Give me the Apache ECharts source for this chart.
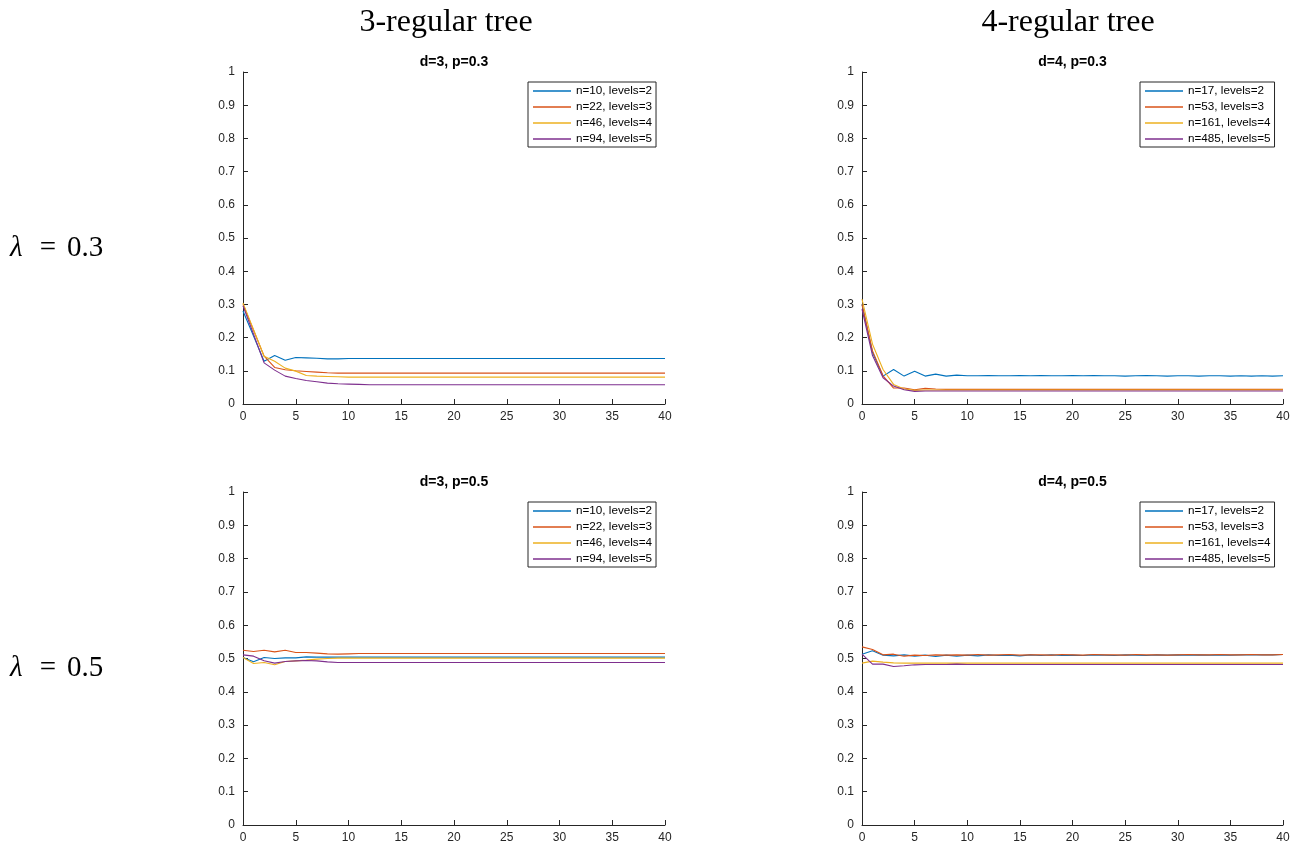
<!DOCTYPE html>
<html>
<head>
<meta charset="utf-8">
<title>Regular trees</title>
<script src="https://cdn.jsdelivr.net/npm/echarts@6/dist/echarts.min.js"></script>
<style>
  html, body { margin: 0; padding: 0; background: #fff; }
  #chart { width: 1298px; height: 849px; }
</style>
</head>
<body>
<div id="chart"></div>
<script>
// Steps 0..40 on the horizontal axis
const steps = [0,1,2,3,4,5,6,7,8,9,10,11,12,13,14,15,16,17,18,19,20,
  21,22,23,24,25,26,27,28,29,30,31,32,33,34,35,36,37,38,39,40];

const yTicks = [0,0.1,0.2,0.3,0.4,0.5,0.6,0.7,0.8,0.9,1];
const xTicks = [0,5,10,15,20,25,30,35,40];

const colHeaders = ['3-regular tree', '4-regular tree'];
const rowHeaders = ['0.3', '0.5'];
const panelTitles = ['d=3, p=0.3', 'd=4, p=0.3', 'd=3, p=0.5', 'd=4, p=0.5'];

const names3 = ['n=10, levels=2', 'n=22, levels=3', 'n=46, levels=4', 'n=94, levels=5'];
const names4 = ['n=17, levels=2', 'n=53, levels=3', 'n=161, levels=4', 'n=485, levels=5'];

// d=3, p=0.3
const d3p3_l2 = [0.280,0.205,0.129,0.146,0.132,0.140,0.139,0.138,0.136,0.136,
  0.137,0.137,0.137,0.137,0.137,0.137,0.137,0.137,0.137,0.137,
  0.137,0.137,0.137,0.137,0.137,0.137,0.137,0.137,0.137,0.137,
  0.137,0.137,0.137,0.137,0.137,0.137,0.137,0.137,0.137,0.137,0.137];
const d3p3_l3 = [0.300,0.222,0.144,0.110,0.103,0.100,0.098,0.096,0.094,0.093,
  0.093,0.093,0.093,0.093,0.093,0.093,0.093,0.093,0.093,0.093,
  0.093,0.093,0.093,0.093,0.093,0.093,0.093,0.093,0.093,0.093,
  0.093,0.093,0.093,0.093,0.093,0.093,0.093,0.093,0.093,0.093,0.093];
const d3p3_l4 = [0.304,0.224,0.144,0.129,0.108,0.099,0.086,0.084,0.083,0.082,
  0.081,0.081,0.081,0.081,0.081,0.081,0.081,0.081,0.081,0.081,
  0.081,0.081,0.081,0.081,0.081,0.081,0.081,0.081,0.081,0.081,
  0.081,0.081,0.081,0.081,0.081,0.081,0.081,0.081,0.081,0.081,0.081];
const d3p3_l5 = [0.296,0.210,0.124,0.102,0.084,0.077,0.071,0.067,0.063,0.061,
  0.060,0.059,0.058,0.058,0.058,0.058,0.058,0.058,0.058,0.058,
  0.058,0.058,0.058,0.058,0.058,0.058,0.058,0.058,0.058,0.058,
  0.058,0.058,0.058,0.058,0.058,0.058,0.058,0.058,0.058,0.058,0.058];

// d=4, p=0.3
const d4p3_l2 = [0.300,0.155,0.084,0.104,0.084,0.099,0.084,0.090,0.084,0.087,
  0.085,0.085,0.086,0.085,0.085,0.086,0.085,0.086,0.085,0.085,
  0.086,0.085,0.086,0.085,0.085,0.084,0.085,0.086,0.085,0.084,
  0.085,0.085,0.084,0.085,0.085,0.084,0.085,0.084,0.085,0.084,0.085];
const d4p3_l3 = [0.300,0.160,0.085,0.048,0.048,0.043,0.047,0.045,0.044,0.044,
  0.044,0.044,0.044,0.044,0.044,0.044,0.044,0.044,0.044,0.044,
  0.044,0.044,0.044,0.044,0.044,0.044,0.044,0.044,0.044,0.044,
  0.044,0.044,0.044,0.044,0.044,0.044,0.044,0.044,0.044,0.044,0.044];
const d4p3_l4 = [0.316,0.180,0.104,0.059,0.045,0.041,0.042,0.042,0.042,0.042,
  0.042,0.042,0.042,0.042,0.042,0.042,0.042,0.042,0.042,0.042,
  0.042,0.042,0.042,0.042,0.042,0.042,0.042,0.042,0.042,0.042,
  0.042,0.042,0.042,0.042,0.042,0.042,0.042,0.042,0.042,0.042,0.042];
const d4p3_l5 = [0.286,0.146,0.079,0.054,0.043,0.038,0.039,0.039,0.039,0.039,
  0.039,0.039,0.039,0.039,0.039,0.039,0.039,0.039,0.039,0.039,
  0.039,0.039,0.039,0.039,0.039,0.039,0.039,0.039,0.039,0.039,
  0.039,0.039,0.039,0.039,0.039,0.039,0.039,0.039,0.039,0.039,0.039];

// d=3, p=0.5
const d3p5_l2 = [0.503,0.490,0.503,0.500,0.502,0.502,0.505,0.504,0.504,0.504,
  0.504,0.504,0.504,0.504,0.504,0.504,0.504,0.504,0.504,0.504,
  0.504,0.504,0.504,0.504,0.504,0.504,0.504,0.504,0.504,0.504,
  0.504,0.504,0.504,0.504,0.504,0.504,0.504,0.504,0.504,0.504,0.504];
const d3p5_l3 = [0.525,0.521,0.525,0.520,0.525,0.518,0.518,0.516,0.514,0.513,
  0.514,0.515,0.515,0.515,0.515,0.515,0.515,0.515,0.515,0.515,
  0.515,0.515,0.515,0.515,0.515,0.515,0.515,0.515,0.515,0.515,
  0.515,0.515,0.515,0.515,0.515,0.515,0.515,0.515,0.515,0.515,0.515];
const d3p5_l4 = [0.503,0.485,0.488,0.481,0.491,0.493,0.495,0.498,0.500,0.501,
  0.501,0.501,0.501,0.501,0.501,0.501,0.501,0.501,0.501,0.501,
  0.501,0.501,0.501,0.501,0.501,0.501,0.501,0.501,0.501,0.501,
  0.501,0.501,0.501,0.501,0.501,0.501,0.501,0.501,0.501,0.501,0.501];
const d3p5_l5 = [0.511,0.507,0.493,0.486,0.491,0.493,0.494,0.493,0.490,0.488,
  0.488,0.488,0.488,0.488,0.488,0.488,0.488,0.488,0.488,0.488,
  0.488,0.488,0.488,0.488,0.488,0.488,0.488,0.488,0.488,0.488,
  0.488,0.488,0.488,0.488,0.488,0.488,0.488,0.488,0.488,0.488,0.488];

// d=4, p=0.5
const d4p5_l2 = [0.513,0.523,0.510,0.508,0.511,0.507,0.510,0.506,0.510,0.507,
  0.510,0.508,0.511,0.509,0.510,0.508,0.511,0.509,0.511,0.509,
  0.510,0.509,0.511,0.510,0.509,0.511,0.510,0.509,0.511,0.510,
  0.511,0.510,0.511,0.510,0.511,0.510,0.511,0.511,0.511,0.511,0.512];
const d4p5_l3 = [0.535,0.527,0.511,0.513,0.507,0.510,0.509,0.511,0.510,0.511,
  0.510,0.512,0.510,0.511,0.512,0.510,0.511,0.511,0.510,0.512,
  0.511,0.510,0.512,0.511,0.511,0.510,0.512,0.511,0.511,0.510,
  0.511,0.512,0.511,0.511,0.512,0.511,0.511,0.512,0.511,0.511,0.512];
const d4p5_l4 = [0.486,0.492,0.489,0.487,0.486,0.486,0.486,0.486,0.486,0.486,
  0.486,0.486,0.486,0.486,0.486,0.486,0.486,0.486,0.486,0.486,
  0.486,0.486,0.486,0.486,0.486,0.486,0.486,0.486,0.486,0.486,
  0.486,0.486,0.486,0.486,0.486,0.486,0.486,0.486,0.486,0.486,0.486];
const d4p5_l5 = [0.513,0.483,0.483,0.476,0.478,0.481,0.482,0.482,0.482,0.483,
  0.482,0.482,0.482,0.482,0.482,0.482,0.482,0.482,0.482,0.482,
  0.482,0.482,0.482,0.482,0.482,0.482,0.482,0.482,0.482,0.482,
  0.482,0.482,0.482,0.482,0.482,0.482,0.482,0.482,0.482,0.482,0.482];

const palette = ['#0072BD', '#D95319', '#EDB120', '#7E2F8E'];
const axisColor = '#262626';
const sans = '"Liberation Sans", Arial, Helvetica, sans-serif';
const serif = '"Liberation Serif", "DejaVu Serif", serif';

const panels = [
  { grid: { left: 243, top: 72, width: 422, height: 332 }, names: names3,
    data: [d3p3_l2, d3p3_l3, d3p3_l4, d3p3_l5], legendPos: { left: 528, top: 82 } },
  { grid: { left: 862, top: 72, width: 421, height: 332 }, names: names4,
    data: [d4p3_l2, d4p3_l3, d4p3_l4, d4p3_l5], legendPos: { left: 1140, top: 82 } },
  { grid: { left: 243, top: 492, width: 422, height: 333 }, names: names3,
    data: [d3p5_l2, d3p5_l3, d3p5_l4, d3p5_l5], legendPos: { left: 528, top: 502 } },
  { grid: { left: 862, top: 492, width: 421, height: 333 }, names: names4,
    data: [d4p5_l2, d4p5_l3, d4p5_l4, d4p5_l5], legendPos: { left: 1140, top: 502 } }
];

const grids = [], xAxes = [], yAxes = [], series = [], legends = [], graphics = [];

panels.forEach((p, i) => {
  grids.push(Object.assign({ containLabel: false }, p.grid));
  xAxes.push({
    type: 'value', gridIndex: i,
    min: xTicks[0], max: xTicks[xTicks.length - 1], interval: xTicks[1] - xTicks[0],
    axisLine: { show: true, lineStyle: { color: axisColor, width: 1 } },
    axisTick: { show: true, inside: true, length: 5, lineStyle: { color: axisColor } },
    axisLabel: { color: axisColor, fontFamily: sans, fontSize: 12, margin: 7 },
    splitLine: { show: false }
  });
  yAxes.push({
    type: 'value', gridIndex: i,
    min: yTicks[0], max: yTicks[yTicks.length - 1], interval: yTicks[1] - yTicks[0],
    axisLine: { show: true, lineStyle: { color: axisColor, width: 1 } },
    axisTick: { show: true, inside: true, length: 5, lineStyle: { color: axisColor } },
    axisLabel: { color: axisColor, fontFamily: sans, fontSize: 12, margin: 8,
      formatter: v => String(Math.round(v * 10) / 10) },
    splitLine: { show: false }
  });
  p.data.forEach((vals, k) => {
    series.push({
      type: 'line', name: p.names[k], xAxisIndex: i, yAxisIndex: i,
      data: vals.map((v, j) => [steps[j], v]),
      symbol: 'none', smooth: false, z: 2 + k,
      lineStyle: { color: palette[k], width: 1.1 },
      itemStyle: { color: palette[k] }
    });
  });
  legends.push({
    left: p.legendPos.left, top: p.legendPos.top,
    orient: 'vertical', data: p.names, selectedMode: false,
    icon: 'rect', itemWidth: 38, itemHeight: 1.5, itemGap: 4,
    padding: [3, 4, 2, 5],
    borderColor: axisColor, borderWidth: 1, backgroundColor: '#fff',
    textStyle: { fontFamily: sans, fontSize: 11.7, color: '#000', lineHeight: 12 }
  });
  const gx = p.grid.left + p.grid.width / 2;
  graphics.push({
    type: 'text', x: gx, y: p.grid.top - 10,
    style: { text: panelTitles[i], font: 'bold 14px ' + sans, fill: '#000',
      textAlign: 'center', textVerticalAlign: 'middle' }
  });
});

// Column headers
[[446, colHeaders[0]], [1068, colHeaders[1]]].forEach(([x, t]) => {
  graphics.push({
    type: 'text', x: x, y: 23,
    style: { text: t, font: '32px ' + serif, fill: '#000',
      textAlign: 'center', textVerticalAlign: 'middle' }
  });
});

// Row headers: italic lambda, equals sign, value
[[248, rowHeaders[0]], [668, rowHeaders[1]]].forEach(([y, t]) => {
  graphics.push({
    type: 'text', x: 10, y: y,
    style: { text: 'λ', font: 'italic 29px ' + serif, fill: '#000',
      textAlign: 'left', textVerticalAlign: 'middle' }
  });
  graphics.push({
    type: 'text', x: 48, y: y,
    style: { text: '=', font: '29px ' + serif, fill: '#000',
      textAlign: 'center', textVerticalAlign: 'middle' }
  });
  graphics.push({
    type: 'text', x: 67, y: y,
    style: { text: t, font: '29px ' + serif, fill: '#000',
      textAlign: 'left', textVerticalAlign: 'middle' }
  });
});

const chart = echarts.init(document.getElementById('chart'), null, { renderer: 'canvas' });
chart.setOption({
  animation: false,
  backgroundColor: '#fff',
  grid: grids,
  xAxis: xAxes,
  yAxis: yAxes,
  legend: legends,
  series: series,
  graphic: graphics
});
</script>
</body>
</html>
